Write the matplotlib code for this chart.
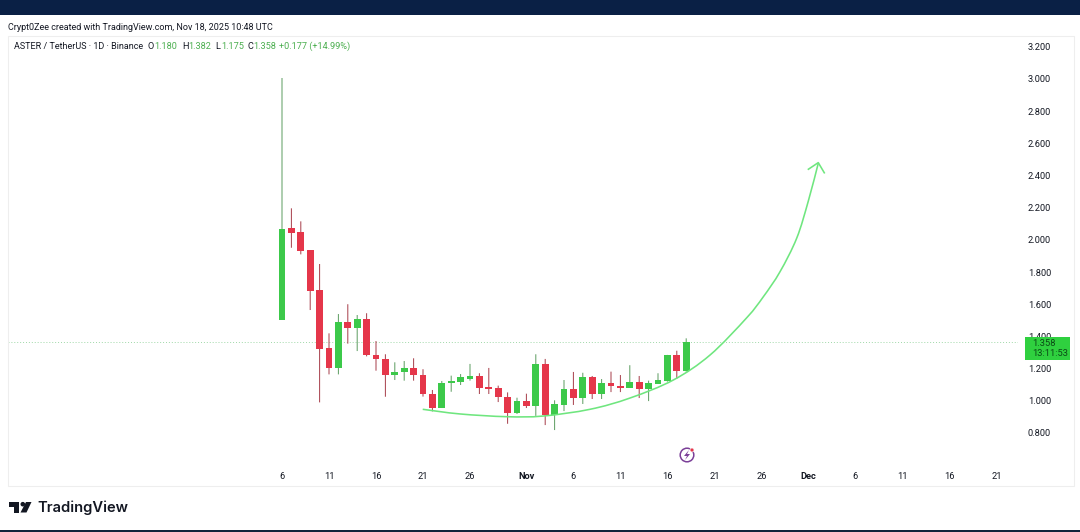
import matplotlib
matplotlib.use("Agg")
import matplotlib.pyplot as plt
from matplotlib.patches import Rectangle, Circle, Polygon, PathPatch
from matplotlib.path import Path
from matplotlib.transforms import ScaledTranslation

W = 1080
H = 532
GREEN = "#3cc94a"
RED = "#e5364a"
plt.rcParams['font.family'] = ['Roboto', 'DejaVu Sans']

# candles, index 0 = Oct 6, last = Nov 18
opens = [1.498, 2.066, 2.043, 1.929, 1.682, 1.320, 1.196, 1.483, 1.448, 1.500, 1.279, 1.256, 1.156, 1.175, 1.198, 1.156,
         1.038, 0.949, 1.103, 1.113, 1.129, 1.150, 1.081, 1.073, 1.020, 0.920, 0.993, 0.963, 1.223, 0.906,
         0.968, 1.067, 1.011, 1.140, 1.036, 1.103, 1.086, 1.075, 1.110, 1.067, 1.100, 1.119, 1.279, 1.180]
highs = [3.000, 2.190, 2.109, 1.929, 1.844, 1.413, 1.533, 1.594, 1.527, 1.538, 1.365, 1.283, 1.233, 1.241, 1.258, 1.190,
         1.061, 1.117, 1.150, 1.160, 1.223, 1.165, 1.198, 1.088, 1.046, 1.013, 1.038, 1.283, 1.254, 0.997,
         1.123, 1.173, 1.168, 1.148, 1.129, 1.175, 1.154, 1.215, 1.148, 1.119, 1.165, 1.279, 1.305, 1.382]
lows = [1.498, 1.945, 1.904, 1.558, 0.984, 1.158, 1.158, 1.349, 1.303, 1.270, 1.181, 1.019, 1.123, 1.119, 1.119, 1.020,
        0.928, 0.949, 1.050, 1.092, 1.119, 1.036, 1.036, 0.986, 0.851, 0.912, 0.949, 0.900, 0.843, 0.812,
        0.930, 0.968, 0.974, 1.005, 1.005, 1.048, 1.048, 1.075, 1.011, 0.992, 1.100, 1.113, 1.131, 1.175]
closes = [2.062, 2.039, 1.927, 1.678, 1.318, 1.196, 1.483, 1.448, 1.500, 1.276, 1.256, 1.156, 1.175, 1.198, 1.156, 1.038,
          0.949, 1.103, 1.117, 1.140, 1.148, 1.075, 1.067, 1.020, 0.920, 0.993, 0.961, 1.223, 0.906, 0.974,
          1.067, 1.013, 1.140, 1.036, 1.103, 1.086, 1.075, 1.110, 1.067, 1.103, 1.121, 1.279, 1.177, 1.358]

x_ticks = [0, 5, 10, 15, 20, 26, 31, 36, 41, 46, 51, 56, 61, 66, 71, 76]
x_labels = ['6', '11', '16', '21', '26', 'Nov', '6', '11', '16', '21', '26', 'Dec', '6', '11', '16', '21']
y_ticks = [0.8, 1.0, 1.2, 1.4, 1.6, 1.8, 2.0, 2.2, 2.4, 2.6, 2.8, 3.0, 3.2]

# hand drawn arc and its arrow head
arc_x = [14.97, 18.94, 23.90, 27.77, 32.77, 37.02, 41.63, 45.53, 49.44, 51.20, 52.98, 54.76, 55.99, 57.05]
arc_y = [0.941, 0.912, 0.895, 0.899, 0.941, 1.011, 1.123, 1.278, 1.510, 1.640, 1.796, 2.005, 2.235, 2.470]
head_x = [56.0, 57.05, 57.69]
head_y = [2.433, 2.474, 2.411]

fig = plt.figure(figsize=(W / 100, H / 100), dpi=100, facecolor="white")


def px(x, y):
    return x / W, 1 - y / H


def label(x, y, s, color="#131722", size=6.6, ha="left", **kw):
    xf, yf = px(x, y)
    fig.text(xf, yf, s, color=color, fontsize=size, ha=ha, va="center", **kw)


def box(x0, y0, x1, y1, **kw):
    xf, yf = px(x0, y1)
    fig.add_artist(Rectangle((xf, yf), (x1 - x0) / W, (y1 - y0) / H, transform=fig.transFigure, **kw))


# page bands and pane frame
box(0, 0, W, 15, facecolor="#0a2045", edgecolor="none")
box(0, 530, W, H, facecolor="#10243c", edgecolor="none")
box(7.5, 35.5, 1073.5, 485.5, facecolor="none", edgecolor="#eeeeee", linewidth=0.8)

# pane: left/right/top/bottom in pixels, limits from the price and time scale
left, right, top, bottom = 8, 1018, 36, 465
ax = fig.add_axes([left / W, 1 - bottom / H, (right - left) / W, (bottom - top) / H])
ax.patch.set_alpha(0)
ax.set_xlim((left - 282) / 9.4, (right - 282) / 9.4)
ax.set_ylim(3 - (bottom - 78) / 160.9, 3 - (top - 78) / 160.9)
for s in ax.spines.values():
    s.set_visible(False)

for i in range(len(opens)):
    up = closes[i] >= opens[i]
    ax.vlines(i, lows[i], highs[i], color="#5f9e63" if up else "#a8404c", linewidth=0.72, snap=False, zorder=2)
    ax.bar(i, abs(closes[i] - opens[i]), bottom=min(opens[i], closes[i]), width=0.74,
           color=GREEN if up else RED, linewidth=0, zorder=3)

ax.axhline(closes[-1], color="#9fd8a8", linewidth=0.7, linestyle=(0, (1, 2)), zorder=1)

# smooth curve through the read points
verts = [(arc_x[0], arc_y[0])]
codes = [Path.MOVETO]
n = len(arc_x)
for i in range(n - 1):
    a = max(i - 1, 0)
    d = min(i + 2, n - 1)
    verts.append((arc_x[i] + (arc_x[i + 1] - arc_x[a]) / 6, arc_y[i] + (arc_y[i + 1] - arc_y[a]) / 6))
    verts.append((arc_x[i + 1] - (arc_x[d] - arc_x[i]) / 6, arc_y[i + 1] - (arc_y[d] - arc_y[i]) / 6))
    verts.append((arc_x[i + 1], arc_y[i + 1]))
    codes += [Path.CURVE4, Path.CURVE4, Path.CURVE4]
ax.add_patch(PathPatch(Path(verts, codes), facecolor="none", edgecolor="#6fe67f", linewidth=1.15, zorder=4))
ax.plot(head_x, head_y, color="#6fe67f", linewidth=1.15, zorder=4)

ax.yaxis.tick_right()
ax.set_yticks(y_ticks)
ax.set_yticklabels(["%.3f" % v for v in y_ticks])
ax.set_xticks(x_ticks)
ax.set_xticklabels(x_labels)
ax.tick_params(length=0, labelsize=6.7, labelcolor="#131722")
ax.tick_params(axis="y", pad=7)
ax.tick_params(axis="x", pad=5)
down = ScaledTranslation(0, -1 / 100, fig.dpi_scale_trans)
for t in ax.get_yticklabels():
    t.set_transform(t.get_transform() + down)
for t, s in zip(ax.get_xticklabels(), x_labels):
    if s in ("Nov", "Dec"):
        t.set_fontweight("bold")

# header lines
label(8, 27, "Crypt0Zee created with TradingView.com, Nov 18, 2025 10:48 UTC", size=6.5)
label(14, 46.5, "ASTER / TetherUS · 1D · Binance", size=6.5)
for x, s in [(148, "O"), (182, "H"), (215, "L"), (247, "C")]:
    label(x, 46.5, s, size=6.6)
for x, s in [(154, "1.180"), (188, "1.382"), (221, "1.175"), (253, "1.358"), (279, "+0.177 (+14.99%)")]:
    label(x, 46.5, s, color="#4caf50", size=6.6)

# last price tag
box(1025, 337, 1069.5, 359.5, facecolor="#2fd03f", edgecolor="none", zorder=5)
label(1032, 343, "1.358", color="#0b4a16", size=6.7, zorder=6)
label(1032, 354, "13:11:53", color="#0b4a16", size=6.7, zorder=6)

# events badge
fig.add_artist(Circle((687, H - 455), 6.8, transform=None, facecolor="none", edgecolor="#7b3f98", linewidth=1.1))
fig.add_artist(Polygon([px(689, 450), px(684, 456), px(687, 456), px(685, 460), px(690, 454), px(687, 454)],
                       transform=fig.transFigure, facecolor="#7b3f98", edgecolor="none"))
fig.add_artist(Circle((692, H - 450), 2.0, transform=None, facecolor="#e5364a", edgecolor="white", linewidth=0.5))

# logo
logo = "#131722"
fig.add_artist(Polygon([px(9, 502), px(19.5, 502), px(19.5, 512.5), px(14, 512.5), px(14, 506.5), px(9, 506.5)],
                       transform=fig.transFigure, facecolor=logo, edgecolor="none"))
fig.add_artist(Circle((22.8, H - 504.2), 2.3, transform=None, facecolor=logo, edgecolor="none"))
fig.add_artist(Polygon([px(26, 502), px(31.5, 502), px(26.5, 512.5), px(20.5, 512.5)],
                       transform=fig.transFigure, facecolor=logo, edgecolor="none"))
label(37, 507.5, "TradingView", size=10.6, family=["Inter", "DejaVu Sans"], fontweight="semibold")

fig.savefig("out.png", dpi=100)
